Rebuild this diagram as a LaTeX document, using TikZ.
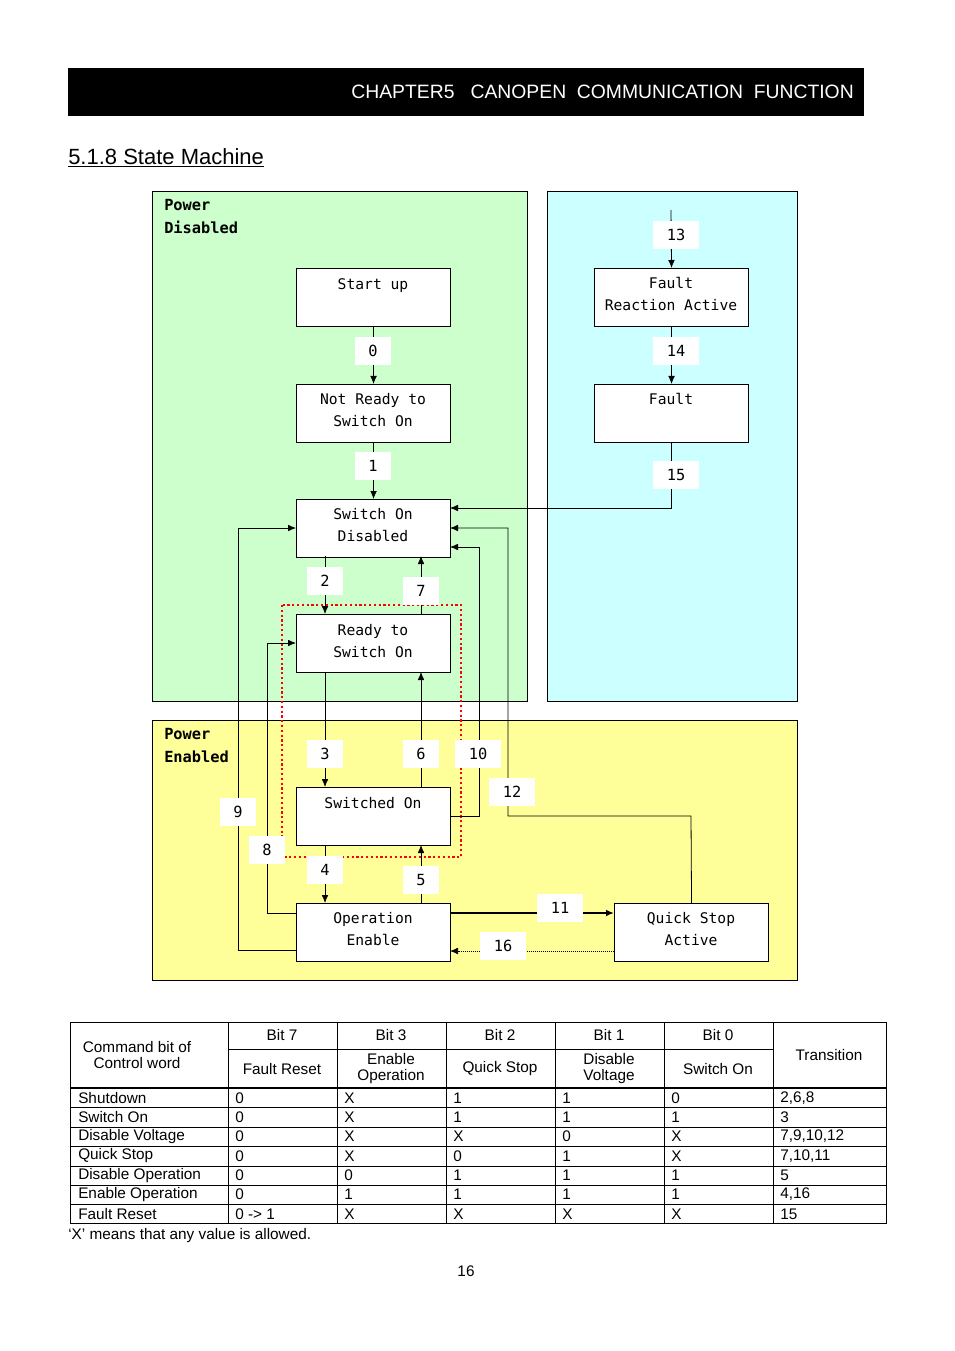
\documentclass[tikz,border=0pt]{standalone}
\usepackage{fontspec}
\setmainfont{Liberation Sans}
\newfontfamily\boxfont{DejaVu Sans Mono}
\usetikzlibrary{arrows.meta}
\definecolor{pgreen}{HTML}{CCFFCC}
\definecolor{pcyan}{HTML}{CCFFFF}
\definecolor{pyellow}{HTML}{FFFF99}
\begin{document}
\begin{tikzpicture}[x=0.75pt,y=-0.75pt,
  st/.style={draw,line width=0.8pt,fill=white,minimum width=115.5pt,minimum height=43.5pt,inner sep=0pt,anchor=north west},
  stt/.style={font=\boxfont\fontsize{11}{16}\selectfont,align=center},
  lb/.style={fill=white,minimum width=27.5pt,minimum height=21pt,inner sep=0pt,font=\boxfont\fontsize{11.5}{13}\selectfont},
  wl/.style={fill=white,minimum width=35pt,minimum height=21pt,inner sep=0pt,font=\boxfont\fontsize{11.5}{13}\selectfont},
  ar/.style={-{Latex[length=6pt,width=5pt]},line width=0.6pt},
  ln/.style={line width=0.6pt},
  tx/.style={font=\fontsize{11.5}{12}\selectfont,inner sep=0pt}]
\useasboundingbox (0,0) rectangle (954,1351);
\fill[white] (0,0) rectangle (954,1351);
% header
\fill[black] (68,68) rectangle (864,116);
\node[anchor=east,text=white,font=\fontsize{14.5}{16}\selectfont,inner sep=0pt] (hdr) at (854,92) {CHAPTER5\ \ \ CANOPEN\ \ COMMUNICATION\ \ FUNCTION};
\node[anchor=west,font=\fontsize{16.5}{18}\selectfont,inner sep=0pt] (ttl) at (68,158) {\underline{5.1.8 State Machine}};
% regions
\draw[fill=pgreen,line width=0.6pt] (152,191) rectangle (527,701);
\draw[fill=pcyan,line width=0.6pt] (547,191) rectangle (797,701);
\draw[fill=pyellow,line width=0.6pt] (152,720) rectangle (797,980);
\node[anchor=north west,font=\boxfont\bfseries\fontsize{11.5}{17}\selectfont,align=left,inner sep=0pt] (pd) at (164,199) {Power\\Disabled};
\node[anchor=north west,font=\boxfont\bfseries\fontsize{11.5}{17}\selectfont,align=left,inner sep=0pt] (pe) at (164,728) {Power\\Enabled};
% states
\node[st] (su) at (296,268) {}; \node[stt,anchor=north] at (373,274) {Start up};
\node[st] (nr) at (296,384) {}; \node[stt,anchor=north] at (373,389) {Not Ready to\\Switch On};
\node[st] (sd) at (296,499) {}; \node[stt,anchor=north] at (373,504) {Switch On\\Disabled};
\node[st] (rs) at (296,614) {}; \node[stt,anchor=north] at (373,620) {Ready to\\Switch On};
\node[st] (so) at (296,787) {}; \node[stt,anchor=north] at (373,793) {Switched On};
\node[st] (oe) at (296,903) {}; \node[stt,anchor=north] at (373,908) {Operation\\Enable};
\node[st] (qs) at (614,903) {}; \node[stt,anchor=north] at (691,908) {Quick Stop\\Active};
\node[st] (fr) at (594,268) {}; \node[stt,anchor=north] at (671,273) {Fault\\Reaction Active};
\node[st] (fa) at (594,384) {}; \node[stt,anchor=north] at (671,389) {Fault};
% red dotted
\draw[red,dotted,line width=1.6pt] (282,605) rectangle (461,857);
% connectors
\coordinate (c13) at (671,210);
\draw[ar] (c13) -- (fr.north);
\draw[ar] (fr.south) -- (fa.north);
\draw[ar] (fa.south) |- (450,508);
\draw[ar] (su.south) -- (nr.north);
\draw[ar] (nr.south) -- (sd.north);
\draw[ar] (325,556) -- (325,614);
\draw[ar] (421,614) -- (421,556);
\draw[ar] (325,672) -- (325,787);
\draw[ar] (421,787) -- (421,672);
\draw[ar] (325,845) -- (325,903);
\draw[ar] (421,903) -- (421,845);
\draw[ar] (450,816) -- (479,816) -- (479,547) -- (450,547);
\draw[ar] (qs.north) -- (691,816) -- (508,816) -- (508,528) -- (450,528);
\draw[ar] (296,950) -- (238,950) -- (238,528) -- (296,528);
\draw[ar] (296,913) -- (267,913) -- (267,643) -- (296,643);
\draw[-{Latex[length=6pt,width=5pt]},line width=1.2pt] (450,913) -- (614,913);
\draw[-{Latex[length=6pt,width=5pt]},line width=0.5pt,densely dotted] (614,951) -- (450,951);
% labels
\node[lb] (l0) at (373,351) {0};
\node[lb] (l1) at (373,466) {1};
\node[lb] (l2) at (325,581) {2};
\node[lb] (l7) at (421,591) {7};
\node[lb] (l3) at (325,754) {3};
\node[lb] (l6) at (421,754) {6};
\node[wl] (l10) at (478,754) {10};
\node[wl] (l12) at (512,792) {12};
\node[lb] (l9) at (238,812) {9};
\node[lb] (l8) at (267,850) {8};
\node[lb] (l4) at (325,870) {4};
\node[lb] (l5) at (421,880) {5};
\node[wl] (l11) at (560,908) {11};
\node[wl] (l16) at (503,946) {16};
\node[wl] (l13) at (676,235) {13};
\node[wl] (l14) at (676,351) {14};
\node[wl] (l15) at (676,475) {15};
% table
\draw[line width=0.6pt] (70,1022) rectangle (886,1223);
\draw[line width=1.2pt] (70,1088) -- (886,1088);
\foreach \x in {228,337,446,555,664,773} \draw[line width=0.6pt] (\x,1022) -- (\x,1223);
\draw[line width=0.6pt] (228,1049) -- (773,1049);
\foreach \y in {1107,1127,1146,1166,1185,1204} \draw[line width=0.6pt] (70,\y) -- (886,\y);
\node[tx,align=center] (h0) at (137,1055) {Command bit of\\Control word};
\node[tx] at (282,1035) {Bit 7}; \node[tx] at (282,1069) {Fault Reset};
\node[tx] at (391,1035) {Bit 3}; \node[tx,align=center] at (391,1069) {Enable\\Operation};
\node[tx] at (500,1035) {Bit 2}; \node[tx] at (500,1069) {Quick Stop};
\node[tx] at (609,1035) {Bit 1}; \node[tx,align=center] at (609,1069) {Disable\\Voltage};
\node[tx] at (718,1035) {Bit 0}; \node[tx] at (718,1069) {Switch On};
\node[tx] at (829,1055) {Transition};
\foreach \n/\a/\b/\c/\d/\e/\t [count=\i from 0] in {
 Shutdown/0/X/1/1/0/{2,6,8},
 Switch On/0/X/1/1/1/3,
 Disable Voltage/0/X/X/0/X/{7,9,10,12},
 Quick Stop/0/X/0/1/X/{7,10,11},
 Disable Operation/0/0/1/1/1/5,
 Enable Operation/0/1/1/1/1/{4,16},
 Fault Reset/0 -> 1/X/X/X/X/15}{
  \pgfmathsetmacro{\yy}{1098+19.3*\i}
  \node[tx,anchor=west] at (78,\yy) {\n};
  \node[tx,anchor=west] at (235,\yy) {\a};
  \node[tx,anchor=west] at (344,\yy) {\b};
  \node[tx,anchor=west] at (453,\yy) {\c};
  \node[tx,anchor=west] at (562,\yy) {\d};
  \node[tx,anchor=west] at (671,\yy) {\e};
  \node[tx,anchor=west] at (780,\yy) {\t};
}
\node[tx,anchor=west] (fn) at (68,1236) {‘X’ means that any value is allowed.};
\node[tx] (pg) at (466,1271) {16};
\end{tikzpicture}
\end{document}
